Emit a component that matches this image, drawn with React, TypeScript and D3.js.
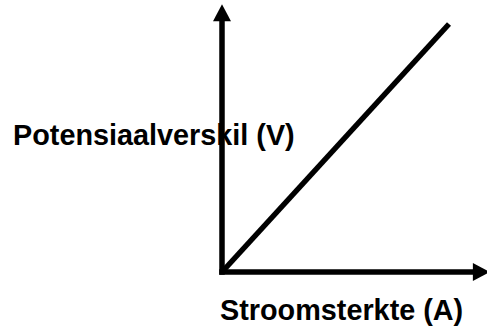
import React from 'react';
import * as d3 from 'd3';

// proportional V-I sketch: current (A) against potential difference (V)
const currents = [0, 1];
const voltages = [0, 1];
const axisEnds = { x: 1.18, y: 1.08 };
const xLabel = 'Stroomsterkte (A)';
const yLabel = 'Potensiaalverskil (V)';

const width = 487;
const height = 329;
const origin = { x: 222, y: 272 };

const App = () => {
  const xScale = d3.scaleLinear().domain([0, 1]).range([origin.x, 449]);
  const yScale = d3.scaleLinear().domain([0, 1]).range([origin.y, 24]);

  const points = currents.map((c, i) => [c, voltages[i]] as [number, number]);
  const line = d3.line<[number, number]>()
    .x(d => xScale(d[0]))
    .y(d => yScale(d[1]));

  const xEnd = xScale(axisEnds.x);
  const yEnd = yScale(axisEnds.y);
  const head = 17;
  const half = 9;
  const stroke = 5.5;

  const font = { fontFamily: '"Liberation Sans", Arial, sans-serif', fontWeight: 700, fontSize: 28.8 };

  return (
    <svg width={width} height={height} style={{ position: 'absolute', left: 0, top: 0, background: '#fff' }}>
      {/* y axis */}
      <line x1={origin.x} x2={origin.x} y1={origin.y + stroke / 2} y2={yEnd + head - 1} stroke="#000" strokeWidth={stroke} />
      <path d={`M${origin.x},${yEnd} L${origin.x - half},${yEnd + head} L${origin.x + half},${yEnd + head} Z`} fill="#000" />
      {/* x axis */}
      <line x1={origin.x - stroke / 2} x2={xEnd - head + 1} y1={origin.y} y2={origin.y} stroke="#000" strokeWidth={stroke} />
      <path d={`M${xEnd},${origin.y} L${xEnd - head},${origin.y - half} L${xEnd - head},${origin.y + half} Z`} fill="#000" />
      {/* data line */}
      <path d={line(points) ?? ''} fill="none" stroke="#000" strokeWidth={stroke} />
      <text x={13} y={145} style={font}>{yLabel}</text>
      <text x={220} y={320} style={font}>{xLabel}</text>
    </svg>
  );
};

export default App;
